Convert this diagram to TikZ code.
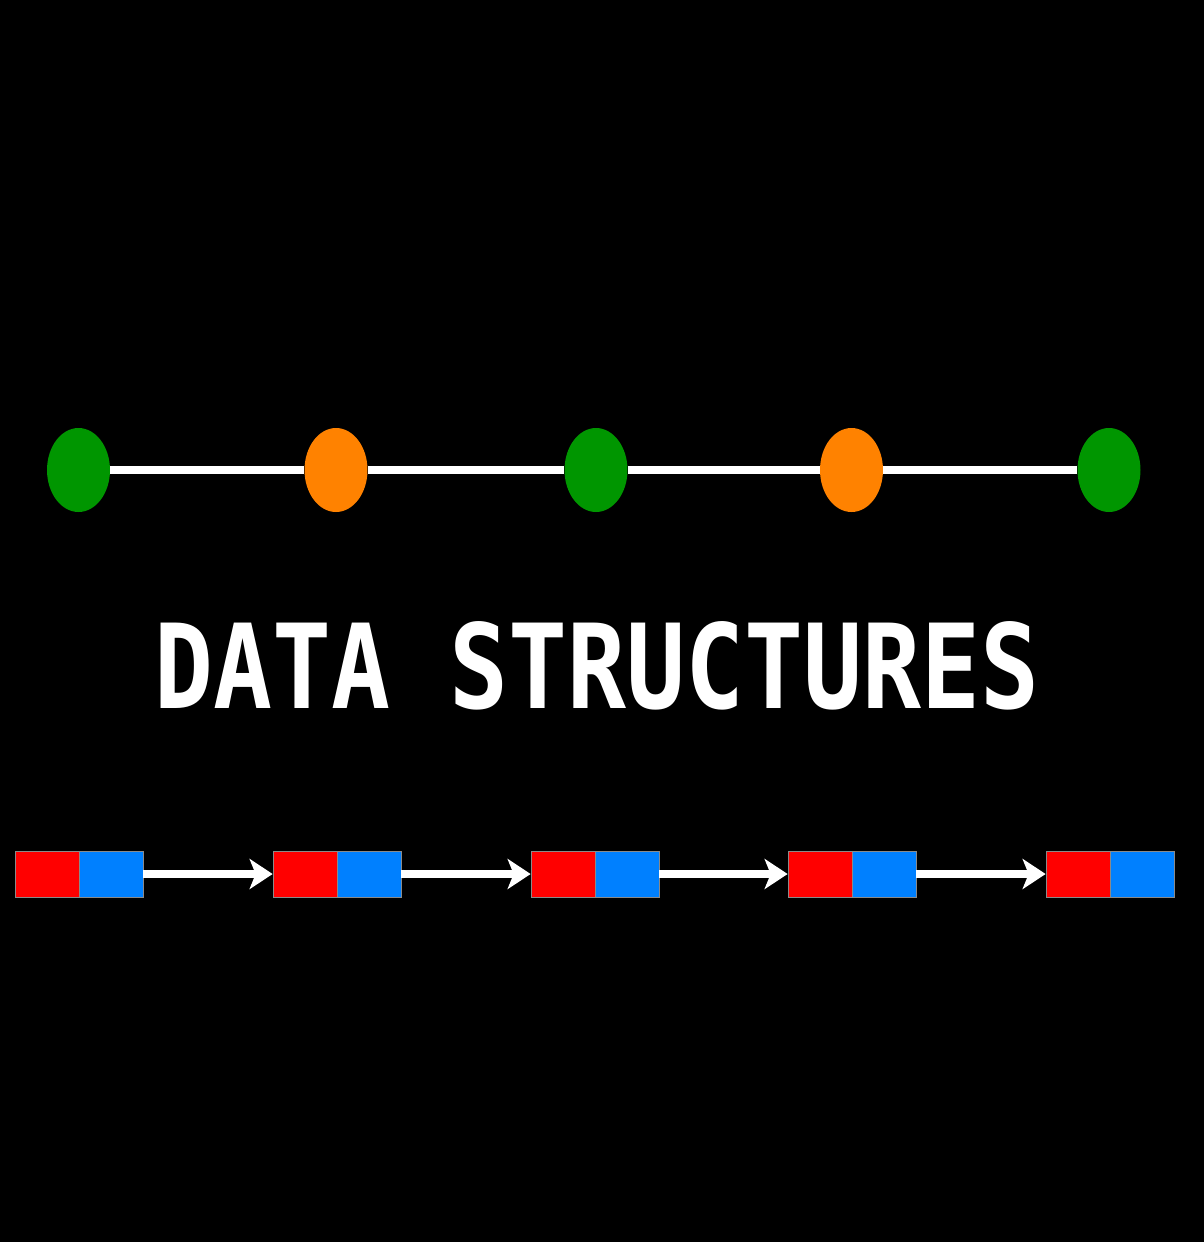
\documentclass[tikz,border=0pt]{standalone}
\usepackage{fontspec}
\newfontfamily\titlefont{DejaVu Sans Mono}
\usetikzlibrary{shapes.geometric,arrows.meta}
\definecolor{nodegreen}{HTML}{009600}
\definecolor{nodeorange}{HTML}{FF8200}
\definecolor{cellred}{HTML}{FF0000}
\definecolor{cellblue}{HTML}{0080FF}
\definecolor{cellrim}{HTML}{8A8A8A}
\begin{document}
\begin{tikzpicture}[x=0.02cm,y=-0.02cm,
  vertex/.style={ellipse,inner sep=0pt,minimum width=1.26cm,minimum height=1.68cm},
  gvertex/.style={vertex,fill=nodegreen},
  overtex/.style={vertex,fill=nodeorange},
  edge/.style={white,line width=0.16cm},
  cell/.style={rectangle,inner sep=0pt,minimum width=1.28cm,minimum height=0.92cm,draw=cellrim,line width=0.4pt},
  datacell/.style={cell,fill=cellred},
  linkcell/.style={cell,fill=cellblue},
  pointer/.style={white,line width=0.16cm,-{Stealth[length=0.46cm,width=0.6cm,inset=0.12cm]}}
]
\fill[black] (0,0) rectangle (1204,1242);
\useasboundingbox (0,0) rectangle (1204,1242);

% graph row
\node[gvertex] (v1) at (78.5,470) {};
\node[overtex] (v2) at (336,470) {};
\node[gvertex] (v3) at (596,470) {};
\node[overtex] (v4) at (851.5,470) {};
\node[gvertex] (v5) at (1109,470) {};
\draw[edge] (v1) -- (v2);
\draw[edge] (v2) -- (v3);
\draw[edge] (v3) -- (v4);
\draw[edge] (v4) -- (v5);

% title
\node[inner sep=0pt,text=white] (title) at (597.5,666)
  {\resizebox{17.7cm}{1.74cm}{\titlefont\bfseries DATA STRUCTURES}};

% linked list row
\foreach \i/\x in {1/15,2/273,3/531,4/788,5/1046}{
  \node[datacell] (d\i) at (\x+32,874) {};
  \node[linkcell] (l\i) at (\x+96,874) {};
}
\draw[pointer] (l1.east) -- (d2.west);
\draw[pointer] (l2.east) -- (d3.west);
\draw[pointer] (l3.east) -- (d4.west);
\draw[pointer] (l4.east) -- (d5.west);
\end{tikzpicture}
\end{document}
